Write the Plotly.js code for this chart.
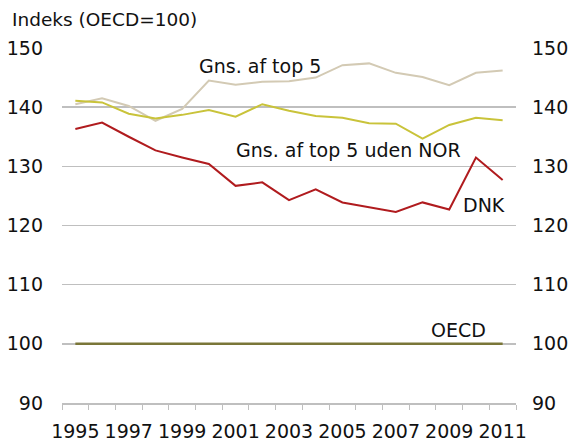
<!DOCTYPE html>
<html>
<head>
<meta charset="utf-8">
<script src="https://cdn.plot.ly/plotly-3.0.1.min.js"></script>
<style>html,body{margin:0;padding:0;background:#fff;}#chart{width:571px;height:441px;}</style>
</head>
<body>
<div id="chart"></div>
<script>
var years = [1995,1996,1997,1998,1999,2000,2001,2002,2003,2004,2005,2006,2007,2008,2009,2010,2011];
var top5 = [140.5,141.5,140.2,137.7,139.7,144.5,143.8,144.3,144.4,145.0,147.1,147.4,145.8,145.1,143.7,145.8,146.2];
var top5UdenNor = [141.1,140.8,138.9,138.1,138.7,139.5,138.4,140.5,139.4,138.5,138.2,137.3,137.2,134.7,137.0,138.2,137.8];
var dnk = [136.3,137.4,135.0,132.7,131.5,130.4,126.7,127.3,124.3,126.1,123.9,123.1,122.3,123.9,122.7,131.5,127.7];
var oecd = [100,100,100,100,100,100,100,100,100,100,100,100,100,100,100,100,100];
var xTickLabels = ['1995','1997','1999','2001','2003','2005','2007','2009','2011'];
var xTickVals = [1995,1997,1999,2001,2003,2005,2007,2009,2011];
var yTicks = [90,100,110,120,130,140,150];

var font = 'DejaVu Sans, Verdana, sans-serif';
var fs = 19;
var traces = [
  {x: years, y: oecd, type:'scatter', mode:'lines', line:{color:'#7a7638', width:2.5}, hoverinfo:'skip'},
  {x: years, y: top5, type:'scatter', mode:'lines', line:{color:'#d3cab4', width:2}},
  {x: years, y: top5UdenNor, type:'scatter', mode:'lines', line:{color:'#c9c33a', width:2}},
  {x: years, y: dnk, type:'scatter', mode:'lines', line:{color:'#b01b1e', width:2}},
  {x: years, y: oecd, type:'scatter', mode:'lines', yaxis:'y2', line:{color:'rgba(0,0,0,0)', width:0}, hoverinfo:'skip'}
];
var layout = {
  width:571, height:441,
  margin:{l:62, r:55, t:48, b:38},
  paper_bgcolor:'#fff', plot_bgcolor:'#fff',
  showlegend:false,
  font:{family:font, size:fs, color:'#111'},
  xaxis:{
    range:[1994.5,2011.5], tickmode:'array', tickvals:xTickVals, ticktext:xTickLabels,
    ticks:'', showgrid:false, zeroline:false, showline:true, linecolor:'#bfbfbf', linewidth:1.5,
    tickfont:{family:font, size:fs, color:'#111'}, ticklabelstandoff:11,
    minor:{tickmode:'linear', tick0:1994.5, dtick:1, ticks:'outside', ticklen:5, tickcolor:'#bfbfbf', tickwidth:1, showgrid:false}
  },
  yaxis:{
    range:[90,150], tickmode:'array', tickvals:yTicks, ticks:'', showgrid:true, gridcolor:'#bfbfbf', gridwidth:1.5,
    zeroline:false, showline:false, tickfont:{family:font, size:fs, color:'#111'}, ticklabelstandoff:18
  },
  yaxis2:{
    range:[90,150], overlaying:'y', side:'right', tickmode:'array', tickvals:yTicks, ticks:'', showgrid:false,
    zeroline:false, showline:false, tickfont:{family:font, size:fs, color:'#111'}, ticklabelstandoff:15
  },
  annotations:[
    {xref:'paper', yref:'paper', x:-0.115, y:1.079, xanchor:'left', yanchor:'middle', text:'Indeks (OECD=100)', showarrow:false, font:{family:font, size:18.5, color:'#111'}},
    {xref:'x', yref:'y', x:2001.9, y:147.0, xanchor:'center', yanchor:'middle', text:'Gns. af top 5', showarrow:false, font:{family:font, size:fs, color:'#111'}},
    {xref:'x', yref:'y', x:2005.23, y:132.8, xanchor:'center', yanchor:'middle', text:'Gns. af top 5 uden NOR', showarrow:false, font:{family:font, size:fs, color:'#111'}},
    {xref:'x', yref:'y', x:2010.3, y:123.4, xanchor:'center', yanchor:'middle', text:'DNK', showarrow:false, font:{family:font, size:fs, color:'#111'}},
    {xref:'x', yref:'y', x:2009.35, y:102.3, xanchor:'center', yanchor:'middle', text:'OECD', showarrow:false, font:{family:font, size:fs, color:'#111'}}
  ]
};
Plotly.newPlot('chart', traces, layout, {staticPlot:true, displayModeBar:false});
</script>
</body>
</html>
